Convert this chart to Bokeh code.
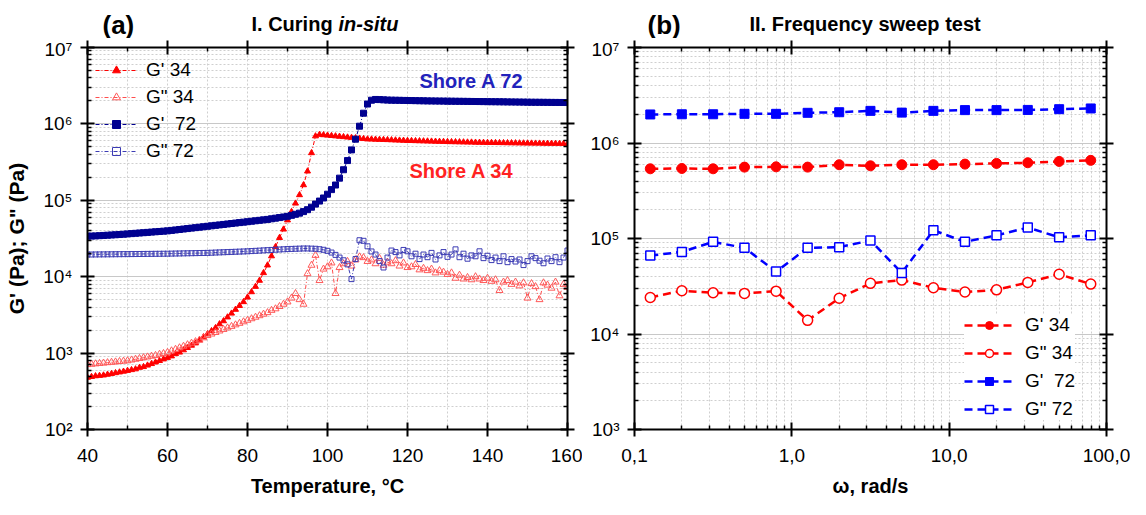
import numpy as np
from bokeh.plotting import figure
from bokeh.layouts import row, column
from bokeh.models import (LogAxis, LinearAxis, FixedTicker, Label, Legend, LegendItem, Range1d)
from bokeh.embed import file_html
from bokeh.resources import INLINE

FONT = "Liberation Sans"

# ---------------- Panel (a): curing in-situ ----------------
temp_c = list(range(40, 161))

g1_34 = [479, 490, 501, 507, 513, 525, 537, 550, 562, 575,
         589, 603, 617, 646, 661, 692, 724, 759, 794, 832,
         871, 912, 977, 1023, 1096, 1175, 1259, 1349, 1479, 1622,
         1778, 1950, 2138, 2399, 2630, 2951, 3311, 3715, 4169, 4677,
         5370, 6310, 7413, 8913, 11220, 14130, 18620, 24550, 32360, 41690,
         54950, 70790, 91200, 117500, 158500, 239900, 416900, 691800, 724400, 716000,
         708000, 700000, 692000, 684000, 676000, 668000, 661000, 653000, 646000, 638000,
         631000, 629000, 626000, 623000, 621000, 618000, 615000, 612000, 609000, 606000,
         603000, 601000, 599000, 597000, 595000, 593000, 591000, 589000, 587000, 585000,
         583000, 581000, 580000, 578000, 577000, 575000, 574000, 572000, 571000, 569000,
         568000, 567000, 566000, 565000, 564000, 563000, 562000, 561000, 560000, 559000,
         558000, 557000, 556000, 556000, 555000, 554000, 553000, 553000, 552000, 551000,
         550000]

g2_34 = [708, 716, 724, 733, 741, 750, 759, 767, 776, 785,
         794, 813, 832, 851, 871, 891, 912, 933, 966, 989,
         1023, 1072, 1122, 1175, 1230, 1288, 1349, 1413, 1479, 1585,
         1698, 1778, 1862, 1950, 2042, 2138, 2239, 2344, 2455, 2570,
         2692, 2818, 2951, 3090, 3236, 3388, 3631, 3802, 4074, 4365,
         4677, 5248, 6026, 5012, 4365, 10960, 14130, 19050, 8913, 12590,
         13490, 15140, 6026, 13180, 14790, 15850, 13800, 16600, 18200, 17780,
         15850, 16600, 14790, 17380, 14130, 15490, 14790, 16220, 13800, 15140,
         13180, 13490, 14450, 12300, 12880, 12020, 12590, 11220, 12020, 11480,
         10720, 11220, 9550, 10470, 9333, 9772, 9120, 10000, 9333, 8913,
         9550, 8710, 9120, 6607, 8511, 8913, 7943, 8511, 7586, 8318,
         5248, 8128, 7413, 5012, 8318, 7762, 7079, 8511, 5623, 7943,
         7244]

g1_72 = [33900, 34040, 34200, 34430, 34670, 34910, 35160, 35400, 35650, 35970,
         36310, 36640, 36980, 37330, 37670, 38020, 38370, 38730, 39080, 39450,
         39810, 40360, 40930, 41500, 42070, 42660, 43250, 43850, 44460, 45080,
         45710, 46340, 46990, 47640, 48310, 48980, 49660, 50350, 51050, 51760,
         52480, 53210, 53950, 54700, 55460, 56230, 57280, 58340, 59430, 60530,
         61660, 63530, 65610, 67920, 71120, 75340, 81280, 89130, 97720, 107200,
         120200, 138000, 158500, 195000, 251200, 331100, 457100, 631000, 933300, 1380000,
         1820000, 2042000, 2089000, 2080000, 2065000, 2051000, 2045000, 2040000, 2035000, 2030000,
         2025000, 2020000, 2015000, 2010000, 2005000, 2000000, 1997000, 1994000, 1991000, 1988000,
         1985000, 1982000, 1979000, 1976000, 1973000, 1970000, 1967000, 1964000, 1961000, 1958000,
         1955000, 1952000, 1949000, 1946000, 1943000, 1940000, 1937000, 1934000, 1931000, 1928000,
         1925000, 1922000, 1920000, 1918000, 1916000, 1914000, 1912000, 1910000, 1908000, 1906000,
         1904000]

g2_72 = [19500, 19520, 19550, 19580, 19600, 19630, 19650, 19680, 19700, 19730,
         19750, 19780, 19800, 19830, 19850, 19880, 19900, 19930, 19950, 19980,
         20000, 20050, 20100, 20150, 20200, 20250, 20300, 20350, 20400, 20450,
         20500, 20600, 20700, 20800, 20900, 21000, 21100, 21200, 21300, 21400,
         21500, 21650, 21800, 21950, 22100, 22250, 22400, 22550, 22700, 22850,
         23000, 23100, 23200, 23300, 23400, 23400, 23300, 23200, 22900, 22500,
         21800, 20700, 19300, 17800, 16400, 14500, 9300, 17000, 30000, 29500,
         25000, 21400, 19500, 16000, 13200, 17800, 22000, 21000, 19000, 22400,
         21500, 18500, 20000, 17000, 19500, 18000, 20500, 16800, 19000, 21000,
         18200, 19500, 22800, 18000, 20000, 17200, 19000, 18500, 21500, 17500,
         18800, 16500, 17800, 16000, 18500, 15500, 17000, 15800, 16800, 14200,
         16000, 18500, 17500, 16200, 15000, 17300, 16000, 18000, 15500, 17800,
         22000]

x_ticks_a = [40, 60, 80, 100, 120, 140, 160]
x_minor_a = [50, 70, 90, 110, 130, 150]
y_ticks_a = [100, 1000, 10000, 100000, 1000000, 10000000]
y_labels_a = ["10²", "10³", "10⁴", "10⁵", "10⁶", "10⁷"]

# ---------------- Panel (b): frequency sweep ----------------
omega = [0.126, 0.2, 0.316, 0.5, 0.794, 1.26, 2.0, 3.16, 5.0, 7.94, 12.6, 20.0, 31.6, 50.0, 79.4]
gp_34 = [5.37e5, 5.41e5, 5.37e5, 5.59e5, 5.63e5, 5.59e5, 5.92e5, 5.77e5, 5.92e5, 5.92e5,
         6.01e5, 6.11e5, 6.21e5, 6.41e5, 6.58e5]
gpp_34 = [2.41e4, 2.84e4, 2.70e4, 2.66e4, 2.81e4, 1.39e4, 2.37e4, 3.39e4, 3.67e4, 3.05e4,
          2.75e4, 2.90e4, 3.47e4, 4.22e4, 3.33e4]
gp_72 = [1.99e6, 2.00e6, 2.00e6, 2.02e6, 2.02e6, 2.07e6, 2.10e6, 2.17e6, 2.08e6, 2.17e6,
         2.21e6, 2.21e6, 2.22e6, 2.26e6, 2.30e6]
gpp_72 = [6.62e4, 7.24e4, 9.22e4, 7.98e4, 4.50e4, 7.98e4, 8.11e4, 9.53e4, 4.36e4, 1.22e5,
          9.22e4, 1.08e5, 1.30e5, 1.03e5, 1.08e5]

x_ticks_b = [0.1, 1, 10, 100]
x_labels_b = ["0,1", "1,0", "10,0", "100,0"]
y_ticks_b = [1000, 10000, 100000, 1000000, 10000000]
y_labels_b = ["10³", "10⁴", "10⁵", "10⁶", "10⁷"]

W_A, W_B = 582, 548
HEAD_H = 38
MAIN_H = 461


def log_minors(lo_exp, hi_exp):
    out = []
    for e in range(lo_exp, hi_exp):
        for m in range(2, 10):
            out.append(m * 10.0 ** e)
    return out


def style_axis(ax):
    ax.axis_line_width = 2
    ax.axis_line_color = "black"
    ax.major_tick_line_width = 2
    ax.minor_tick_line_width = 1.5
    ax.major_tick_in = 7
    ax.major_tick_out = 7
    ax.minor_tick_in = 4
    ax.minor_tick_out = 0
    ax.major_label_text_font = FONT
    ax.major_label_text_font_size = "19px"
    ax.major_label_text_color = "black"
    ax.axis_label_text_font = FONT
    ax.axis_label_text_font_size = "20px"
    ax.axis_label_text_font_style = "bold"
    ax.axis_label_text_color = "black"


def mirror_axis(ax):
    # tick marks only: labels are not painted
    style_axis(ax)
    ax.major_label_text_font_size = "2px"
    ax.major_label_text_color = None
    ax.major_label_text_alpha = 0
    ax.major_label_standoff = 0


def style_grid(p):
    p.ygrid.grid_line_color = "#c8c8c8"
    p.ygrid.grid_line_width = 1
    p.ygrid.minor_grid_line_color = "#cfcfcf"
    p.ygrid.minor_grid_line_dash = "2 2"
    p.xgrid.grid_line_color = "#cfcfcf"
    p.xgrid.grid_line_dash = "2 2"
    p.xgrid.minor_grid_line_color = "#cfcfcf"
    p.xgrid.minor_grid_line_dash = "2 2"
    p.outline_line_color = None


def header(width):
    h = figure(width=width, height=HEAD_H, x_range=Range1d(0, width), y_range=Range1d(0, HEAD_H),
               output_backend="svg", toolbar_location=None, x_axis_location=None,
               y_axis_location=None, min_border=0)
    h.grid.visible = False
    h.outline_line_color = None
    return h


def head_label(fig, x, y, text, size, style="bold"):
    fig.add_layout(Label(x=x, y=y, text=text, text_font=FONT, text_font_size=size,
                         text_font_style=style, text_color="black", text_baseline="alphabetic"))


# ================= Header (a) =================
ha = header(W_A)
head_label(ha, 102, 14, "(a)", "26px")
head_label(ha, 251, 15, "I. Curing", "20px")
head_label(ha, 338, 15, "in-situ", "20px", "bold italic")

# ================= Figure (a) =================
pa = figure(width=W_A, height=MAIN_H, x_range=Range1d(40, 160), y_range=Range1d(1e2, 1e7),
            y_axis_type="log", output_backend="svg", toolbar_location=None,
            min_border_left=87, min_border_right=15, min_border_top=9, min_border_bottom=60)

pa.xaxis.ticker = FixedTicker(ticks=x_ticks_a, minor_ticks=x_minor_a)
pa.yaxis.ticker = FixedTicker(ticks=y_ticks_a, minor_ticks=log_minors(2, 7))
pa.yaxis.major_label_overrides = dict(zip(y_ticks_a, y_labels_a))
pa.xaxis.axis_label = "Temperature, °C"
pa.yaxis.axis_label = "G' (Pa); G\" (Pa)"
style_axis(pa.xaxis[0])
style_axis(pa.yaxis[0])
pa.yaxis.axis_label_text_font_size = "21px"
pa.xaxis.major_label_standoff = 12
pa.xaxis.axis_label_standoff = 10
pa.yaxis.major_label_standoff = 8
pa.yaxis.axis_label_standoff = 12

top_a = LinearAxis(ticker=FixedTicker(ticks=x_ticks_a, minor_ticks=x_minor_a))
right_a = LogAxis(ticker=FixedTicker(ticks=y_ticks_a, minor_ticks=log_minors(2, 7)))
mirror_axis(top_a)
mirror_axis(right_a)
pa.add_layout(top_a, "above")
pa.add_layout(right_a, "right")
style_grid(pa)

dashdot = "4 2 1 2"
ra1 = pa.line(temp_c, g1_34, line_color="#ff0000", line_width=1, line_dash=dashdot)
sa1 = pa.scatter(temp_c, g1_34, marker="triangle", size=6, fill_color="#ff0000", line_color="#ff0000")
ra2 = pa.line(temp_c, g2_34, line_color="#ff4d4d", line_width=1, line_dash=dashdot)
sa2 = pa.scatter(temp_c, g2_34, marker="triangle", size=7, fill_color="white", fill_alpha=0,
                 line_color="#ff5a5a", line_width=1)
ra3 = pa.line(temp_c, g1_72, line_color="#000090", line_width=1, line_dash=dashdot)
sa3 = pa.scatter(temp_c, g1_72, marker="square", size=6, fill_color="#000090", line_color="#000090")
ra4 = pa.line(temp_c, g2_72, line_color="#3c3cb4", line_width=1, line_dash=dashdot)
sa4 = pa.scatter(temp_c, g2_72, marker="square", size=5, fill_color="white", fill_alpha=0,
                 line_color="#3c3cb4", line_width=1)

leg_a = Legend(items=[LegendItem(label="G' 34", renderers=[ra1, sa1]),
                      LegendItem(label="G\" 34", renderers=[ra2, sa2]),
                      LegendItem(label="G'  72", renderers=[ra3, sa3]),
                      LegendItem(label="G\" 72", renderers=[ra4, sa4])],
               location=(8, 267), glyph_width=42, glyph_height=20, label_height=20,
               label_standoff=9, spacing=5, padding=5, margin=0,
               label_text_font=FONT, label_text_font_size="19px", label_text_color="black",
               background_fill_alpha=0, border_line_color=None)
pa.add_layout(leg_a)

pa.add_layout(Label(x=123, y=10 ** 6.566, text="Shore A 72", text_font=FONT, text_font_size="20px",
                    text_font_style="bold", text_color="#2222bb", text_baseline="middle"))
pa.add_layout(Label(x=120.5, y=10 ** 5.382, text="Shore A 34", text_font=FONT, text_font_size="20px",
                    text_font_style="bold", text_color="#ff2222", text_baseline="middle"))

# ================= Header (b) =================
hb = header(W_B)
head_label(hb, 65, 14, "(b)", "26px")
head_label(hb, 167, 15, "II. Frequency sweep test", "20px")

# ================= Figure (b) =================
pb = figure(width=W_B, height=MAIN_H, x_range=Range1d(0.1, 100), y_range=Range1d(1e3, 1e7),
            x_axis_type="log", y_axis_type="log", output_backend="svg", toolbar_location=None,
            min_border_left=52, min_border_right=24, min_border_top=9, min_border_bottom=60)

pb.xaxis.ticker = FixedTicker(ticks=x_ticks_b, minor_ticks=log_minors(-1, 2))
pb.yaxis.ticker = FixedTicker(ticks=y_ticks_b, minor_ticks=log_minors(3, 7))
pb.xaxis.major_label_overrides = dict(zip(x_ticks_b, x_labels_b))
pb.yaxis.major_label_overrides = dict(zip(y_ticks_b, y_labels_b))
pb.xaxis.axis_label = "ω, rad/s"
style_axis(pb.xaxis[0])
style_axis(pb.yaxis[0])
pb.xaxis.major_label_standoff = 12
pb.xaxis.axis_label_standoff = 10
pb.yaxis.major_label_standoff = 8

top_b = LogAxis(ticker=FixedTicker(ticks=x_ticks_b, minor_ticks=log_minors(-1, 2)))
right_b = LogAxis(ticker=FixedTicker(ticks=y_ticks_b, minor_ticks=log_minors(3, 7)))
mirror_axis(top_b)
mirror_axis(right_b)
pb.add_layout(top_b, "above")
pb.add_layout(right_b, "right")
style_grid(pb)

dash = "8 5"
rb1 = pb.line(omega, gp_34, line_color="#ff0000", line_width=2.5, line_dash=dash)
sb1 = pb.scatter(omega, gp_34, marker="circle", size=10, fill_color="#ff0000", line_color="#ff0000")
rb2 = pb.line(omega, gpp_34, line_color="#ff0000", line_width=2.5, line_dash=dash)
sb2 = pb.scatter(omega, gpp_34, marker="circle", size=10, fill_color="white", line_color="#ff0000",
                 line_width=1.5)
rb3 = pb.line(omega, gp_72, line_color="#0000ff", line_width=2.5, line_dash=dash)
sb3 = pb.scatter(omega, gp_72, marker="square", size=9, fill_color="#0000ff", line_color="#0000ff")
rb4 = pb.line(omega, gpp_72, line_color="#0000ff", line_width=2.5, line_dash=dash)
sb4 = pb.scatter(omega, gpp_72, marker="square", size=9, fill_color="white", line_color="#0000ff",
                 line_width=1.5)

leg_b = Legend(items=[LegendItem(label="G' 34", renderers=[rb1, sb1]),
                      LegendItem(label="G\" 34", renderers=[rb2, sb2]),
                      LegendItem(label="G'  72", renderers=[rb3, sb3]),
                      LegendItem(label="G\" 72", renderers=[rb4, sb4])],
               location=(330, 9), glyph_width=50, glyph_height=20, label_height=20,
               label_standoff=11, spacing=6, padding=5, margin=0,
               label_text_font=FONT, label_text_font_size="19px", label_text_color="black",
               background_fill_color="white", background_fill_alpha=1, border_line_color=None)
pb.add_layout(leg_b)

layout = column(row(ha, hb), row(pa, pb))
open("out.html", "w").write(file_html(layout, INLINE))
